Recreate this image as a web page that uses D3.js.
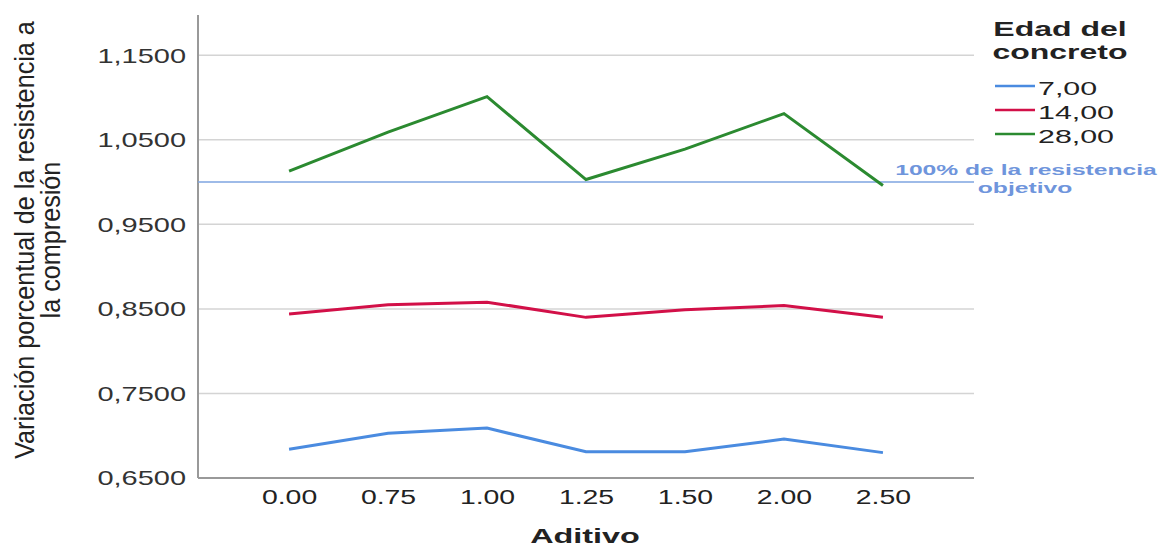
<!DOCTYPE html>
<html><head><meta charset="utf-8">
<script src="https://cdn.jsdelivr.net/npm/d3@7"></script>
<style>body{margin:0;background:#fff}svg{display:block}</style>
</head><body>
<svg id="c" width="1162" height="549"></svg>
<script>
const categories = ["0.00","0.75","1.00","1.25","1.50","2.00","2.50"];
const seriesNames = ["7,00","14,00","28,00"];
const values7 = [0.684, 0.703, 0.709, 0.681, 0.681, 0.696, 0.680];
const values14 = [0.844, 0.855, 0.858, 0.840, 0.849, 0.854, 0.840];
const values28 = [1.013, 1.059, 1.101, 1.003, 1.039, 1.081, 0.996];
const yTicks = [0.65, 0.75, 0.85, 0.95, 1.05, 1.15];
const refValue = 1.0;
const colors = ["#4a8be0", "#d21048", "#2b8a30"];

const FONT = "Liberation Sans, Arial, sans-serif";
const svg = d3.select("#c");
const L = 198, R = 974, T = 13, B = 478;
const x = d3.scalePoint().domain(categories).range([L, R]).padding(0.92);
const y = d3.scaleLinear().domain([0.65, 1.2]).range([B, T]);
const fmt = v => v.toFixed(4).replace(".", ",");

function addText(x0, y0, txt, o) {
  return svg.append("text")
    .attr("transform", `translate(${x0},${y0}) scale(${o.sx || 1},1)`)
    .attr("text-anchor", o.anchor || "start")
    .attr("font-family", FONT).attr("font-size", o.size)
    .attr("font-weight", o.weight || "normal").attr("fill", o.fill || "#222")
    .text(txt);
}

// grid
svg.append("g").selectAll("line").data(yTicks.slice(1)).join("line")
  .attr("x1", L).attr("x2", R).attr("y1", d => y(d)).attr("y2", d => y(d))
  .attr("stroke", "#d4d4d4").attr("stroke-width", 1.5);

// y axis
const sxY = 1.38;
const ya = svg.append("g").attr("transform", `translate(${L},0)`)
  .call(d3.axisLeft(y).tickValues(yTicks).tickFormat(fmt).tickSize(0).tickPadding(12));
ya.select(".domain").remove();
ya.selectAll("text").attr("font-family", FONT).attr("font-size", 21).attr("fill", "#333")
  .attr("x", -12 / sxY).attr("transform", `scale(${sxY},1)`);

// x axis
const xa = svg.append("g").attr("transform", `translate(0,${B})`)
  .call(d3.axisBottom(x).tickSize(0).tickPadding(12));
xa.select(".domain").remove();
xa.selectAll("text").attr("font-family", FONT).attr("font-size", 20).attr("fill", "#222")
  .attr("transform", "scale(1.42,1)");

// axis lines
svg.append("line").attr("x1", L).attr("x2", L).attr("y1", 15).attr("y2", B).attr("stroke", "#999").attr("stroke-width", 2);
svg.append("line").attr("x1", L).attr("x2", R).attr("y1", B).attr("y2", B).attr("stroke", "#999").attr("stroke-width", 2);

// reference line
svg.append("line").attr("x1", L).attr("x2", R).attr("y1", y(refValue)).attr("y2", y(refValue))
  .attr("stroke", "#7ea4e0").attr("stroke-width", 1.5);
addText(1026, y(refValue) - 7, "100% de la resistencia", {size: 15.5, weight: "bold", anchor: "middle", sx: 1.59, fill: "#6f95dc"});
addText(1025, y(refValue) + 11, "objetivo", {size: 15.5, weight: "bold", anchor: "middle", sx: 1.59, fill: "#6f95dc"});

// lines
const line = d3.line().x((d, i) => x(categories[i])).y(d => y(d));
[values7, values14, values28].forEach((vals, k) => {
  svg.append("path").datum(vals).attr("d", line).attr("fill", "none")
    .attr("stroke", colors[k]).attr("stroke-width", 3).attr("stroke-linejoin", "miter");
});

// axis titles
addText(585, 543, "Aditivo", {size: 20, weight: "bold", anchor: "middle", sx: 1.62});
const sT = 1.1;
const yt = svg.append("text").attr("transform", `translate(0,240) rotate(-90) scale(1,${sT})`).attr("text-anchor", "middle")
  .attr("font-family", FONT).attr("font-size", 25.2).attr("fill", "#222");
yt.append("tspan").attr("x", 0).attr("y", 34 / sT).text("Variación porcentual de la resistencia a");
yt.append("tspan").attr("x", 0).attr("y", 60 / sT).text("la compresión");

// legend
addText(1060, 36, "Edad del", {size: 20, weight: "bold", anchor: "middle", sx: 1.6});
addText(1060, 59, "concreto", {size: 20, weight: "bold", anchor: "middle", sx: 1.6});
seriesNames.forEach((s, i) => {
  const yy = 86 + i * 24;
  svg.append("line").attr("x1", 995).attr("x2", 1035).attr("y1", yy).attr("y2", yy).attr("stroke", colors[i]).attr("stroke-width", 2.5);
  addText(1038, yy + 9, s, {size: 19, sx: 1.6});
});
</script>
</body></html>
